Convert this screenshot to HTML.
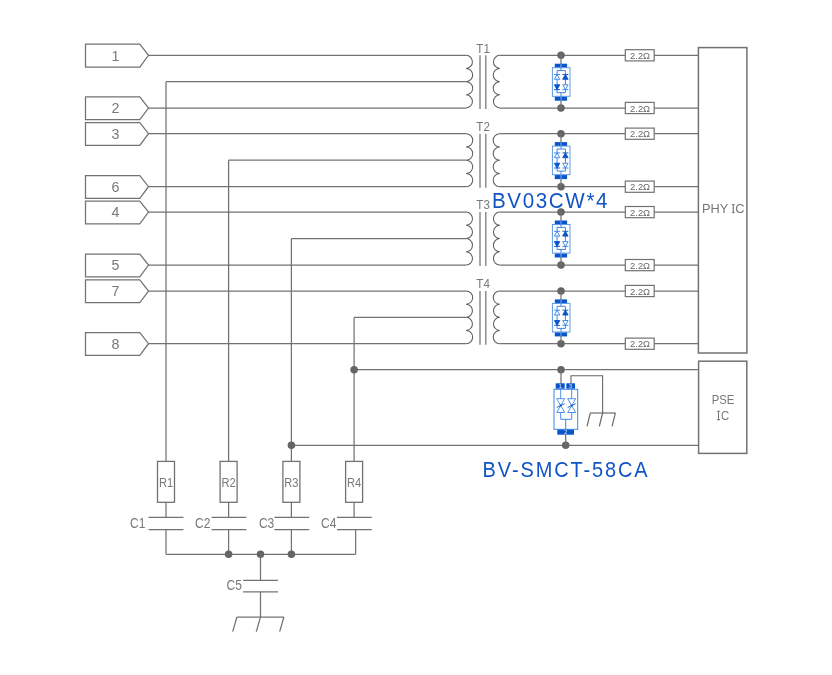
<!DOCTYPE html>
<html><head><meta charset="utf-8"><style>
html,body{margin:0;padding:0;background:#fff;}
svg{display:block;will-change:transform;}
</style></head><body>
<svg width="832" height="675" viewBox="0 0 832 675">
<rect width="832" height="675" fill="#fff"/>
<path d="M139.8,44.2 L85.5,44.2 L85.5,67.0 L139.8,67.0 L148.5,55.3 Z" stroke="#727272" stroke-width="1.25" fill="none" />
<text x="115.6" y="60.6" font-size="14.3" fill="#787878" text-anchor="middle" letter-spacing="0" font-family='"Liberation Sans", sans-serif' font-weight="normal">1</text>
<line x1="148.5" y1="55.3" x2="466.1" y2="55.3" stroke="#727272" stroke-width="1.25"/>
<path d="M139.8,96.9 L85.5,96.9 L85.5,119.7 L139.8,119.7 L148.5,108.0 Z" stroke="#727272" stroke-width="1.25" fill="none" />
<text x="115.6" y="113.3" font-size="14.3" fill="#787878" text-anchor="middle" letter-spacing="0" font-family='"Liberation Sans", sans-serif' font-weight="normal">2</text>
<line x1="148.5" y1="108.0" x2="466.1" y2="108.0" stroke="#727272" stroke-width="1.25"/>
<path d="M139.8,122.6 L85.5,122.6 L85.5,145.4 L139.8,145.4 L148.5,133.7 Z" stroke="#727272" stroke-width="1.25" fill="none" />
<text x="115.6" y="139.0" font-size="14.3" fill="#787878" text-anchor="middle" letter-spacing="0" font-family='"Liberation Sans", sans-serif' font-weight="normal">3</text>
<line x1="148.5" y1="133.7" x2="466.1" y2="133.7" stroke="#727272" stroke-width="1.25"/>
<path d="M139.8,175.6 L85.5,175.6 L85.5,198.4 L139.8,198.4 L148.5,186.7 Z" stroke="#727272" stroke-width="1.25" fill="none" />
<text x="115.6" y="192.0" font-size="14.3" fill="#787878" text-anchor="middle" letter-spacing="0" font-family='"Liberation Sans", sans-serif' font-weight="normal">6</text>
<line x1="148.5" y1="186.7" x2="466.1" y2="186.7" stroke="#727272" stroke-width="1.25"/>
<path d="M139.8,201.0 L85.5,201.0 L85.5,223.8 L139.8,223.8 L148.5,212.1 Z" stroke="#727272" stroke-width="1.25" fill="none" />
<text x="115.6" y="217.4" font-size="14.3" fill="#787878" text-anchor="middle" letter-spacing="0" font-family='"Liberation Sans", sans-serif' font-weight="normal">4</text>
<line x1="148.5" y1="212.1" x2="466.1" y2="212.1" stroke="#727272" stroke-width="1.25"/>
<path d="M139.8,254 L85.5,254 L85.5,276.8 L139.8,276.8 L148.5,265.1 Z" stroke="#727272" stroke-width="1.25" fill="none" />
<text x="115.6" y="270.4" font-size="14.3" fill="#787878" text-anchor="middle" letter-spacing="0" font-family='"Liberation Sans", sans-serif' font-weight="normal">5</text>
<line x1="148.5" y1="265.1" x2="466.1" y2="265.1" stroke="#727272" stroke-width="1.25"/>
<path d="M139.8,279.9 L85.5,279.9 L85.5,302.7 L139.8,302.7 L148.5,291.0 Z" stroke="#727272" stroke-width="1.25" fill="none" />
<text x="115.6" y="296.3" font-size="14.3" fill="#787878" text-anchor="middle" letter-spacing="0" font-family='"Liberation Sans", sans-serif' font-weight="normal">7</text>
<line x1="148.5" y1="291.0" x2="466.1" y2="291.0" stroke="#727272" stroke-width="1.25"/>
<path d="M139.8,332.6 L85.5,332.6 L85.5,355.4 L139.8,355.4 L148.5,343.7 Z" stroke="#727272" stroke-width="1.25" fill="none" />
<text x="115.6" y="349.0" font-size="14.3" fill="#787878" text-anchor="middle" letter-spacing="0" font-family='"Liberation Sans", sans-serif' font-weight="normal">8</text>
<line x1="148.5" y1="343.7" x2="466.1" y2="343.7" stroke="#727272" stroke-width="1.25"/>
<path d="M466.1,55.3 A6.59,6.59 0 0 1 466.1,68.47 A6.59,6.59 0 0 1 466.1,81.65 A6.59,6.59 0 0 1 466.1,94.83 A6.59,6.59 0 0 1 466.1,108.0" stroke="#5e5e5e" stroke-width="1.05" fill="none" />
<path d="M499.8,55.3 A6.59,6.59 0 0 0 499.8,68.47 A6.59,6.59 0 0 0 499.8,81.65 A6.59,6.59 0 0 0 499.8,94.83 A6.59,6.59 0 0 0 499.8,108.0" stroke="#5e5e5e" stroke-width="1.05" fill="none" />
<line x1="480.0" y1="55.3" x2="480.0" y2="109.0" stroke="#8a8a8a" stroke-width="1.5"/>
<line x1="485.8" y1="55.3" x2="485.8" y2="109.0" stroke="#8a8a8a" stroke-width="1.5"/>
<text x="483.1" y="52.5" font-size="13.2" fill="#787878" text-anchor="middle" letter-spacing="0" font-family='"Liberation Sans", sans-serif' font-weight="normal" textLength="13.6" lengthAdjust="spacingAndGlyphs">T1</text>
<line x1="166.0" y1="81.65" x2="466.1" y2="81.65" stroke="#727272" stroke-width="1.25"/>
<line x1="499.8" y1="55.3" x2="698.5" y2="55.3" stroke="#727272" stroke-width="1.25"/>
<circle cx="561.0" cy="55.3" r="3.75" fill="#656565"/>
<rect x="625.3" y="49.7" width="28.9" height="11.2" stroke="#727272" stroke-width="1.2" fill="#fff"/>
<text x="640.1" y="58.9" font-size="9.6" fill="#686868" text-anchor="middle" letter-spacing="0" font-family='"Liberation Sans", sans-serif' font-weight="normal" textLength="20" lengthAdjust="spacingAndGlyphs">2.2Ω</text>
<line x1="499.8" y1="108.0" x2="698.5" y2="108.0" stroke="#727272" stroke-width="1.25"/>
<circle cx="561.0" cy="108.0" r="3.75" fill="#656565"/>
<rect x="625.3" y="102.4" width="28.9" height="11.2" stroke="#727272" stroke-width="1.2" fill="#fff"/>
<text x="640.1" y="111.6" font-size="9.6" fill="#686868" text-anchor="middle" letter-spacing="0" font-family='"Liberation Sans", sans-serif' font-weight="normal" textLength="20" lengthAdjust="spacingAndGlyphs">2.2Ω</text>
<line x1="561.0" y1="55.3" x2="561.0" y2="64.3" stroke="#727272" stroke-width="1.25"/>
<line x1="561.0" y1="99.0" x2="561.0" y2="108.0" stroke="#727272" stroke-width="1.25"/>
<rect x="554.8" y="63.7" width="12.3" height="3.9" fill="#0b55c9"/>
<rect x="554.8" y="96.6" width="12.3" height="4.1" fill="#0b55c9"/>
<line x1="561" y1="63.7" x2="561" y2="67.6" stroke="#9cc0f0" stroke-width="0.8"/>
<line x1="561" y1="96.6" x2="561" y2="100.7" stroke="#9cc0f0" stroke-width="0.8"/>
<rect x="552.4" y="67.7" width="17.6" height="28.6" fill="none" stroke="#5a94e4" stroke-width="0.95"/>
<path d="M561,67.8 V70.6 M557.1,70.6 H565.4 V92.7 H557.1 Z M561,92.7 V96.1" fill="none" stroke="#3d86e6" stroke-width="1"/>
<path d="M554.1,74.5 H560.1 M557.1,74.5 L554.4,79.3 H559.8 Z" fill="#fff" stroke="#3d86e6" stroke-width="0.95"/>
<path d="M562.4,74.5 H568.4 M565.4,74.5 L562.7,79.3 H568.1 Z" fill="#0b55c9" stroke="#0b55c9" stroke-width="0.95"/>
<path d="M554.1,89.6 H560.1 M557.1,89.6 L554.4,84.8 H559.8 Z" fill="#0b55c9" stroke="#0b55c9" stroke-width="0.95"/>
<path d="M562.4,89.6 H568.4 M565.4,89.6 L562.7,84.8 H568.1 Z" fill="#fff" stroke="#3d86e6" stroke-width="0.95"/>
<path d="M466.1,133.7 A6.62,6.62 0 0 1 466.1,146.95 A6.62,6.62 0 0 1 466.1,160.2 A6.62,6.62 0 0 1 466.1,173.45 A6.62,6.62 0 0 1 466.1,186.7" stroke="#5e5e5e" stroke-width="1.05" fill="none" />
<path d="M499.8,133.7 A6.62,6.62 0 0 0 499.8,146.95 A6.62,6.62 0 0 0 499.8,160.2 A6.62,6.62 0 0 0 499.8,173.45 A6.62,6.62 0 0 0 499.8,186.7" stroke="#5e5e5e" stroke-width="1.05" fill="none" />
<line x1="480.0" y1="133.7" x2="480.0" y2="187.7" stroke="#8a8a8a" stroke-width="1.5"/>
<line x1="485.8" y1="133.7" x2="485.8" y2="187.7" stroke="#8a8a8a" stroke-width="1.5"/>
<text x="483.1" y="130.9" font-size="13.2" fill="#787878" text-anchor="middle" letter-spacing="0" font-family='"Liberation Sans", sans-serif' font-weight="normal" textLength="13.6" lengthAdjust="spacingAndGlyphs">T2</text>
<line x1="228.6" y1="160.2" x2="466.1" y2="160.2" stroke="#727272" stroke-width="1.25"/>
<line x1="499.8" y1="133.7" x2="698.5" y2="133.7" stroke="#727272" stroke-width="1.25"/>
<circle cx="561.0" cy="133.7" r="3.75" fill="#656565"/>
<rect x="625.3" y="128.1" width="28.9" height="11.2" stroke="#727272" stroke-width="1.2" fill="#fff"/>
<text x="640.1" y="137.3" font-size="9.6" fill="#686868" text-anchor="middle" letter-spacing="0" font-family='"Liberation Sans", sans-serif' font-weight="normal" textLength="20" lengthAdjust="spacingAndGlyphs">2.2Ω</text>
<line x1="499.8" y1="186.7" x2="698.5" y2="186.7" stroke="#727272" stroke-width="1.25"/>
<circle cx="561.0" cy="186.7" r="3.75" fill="#656565"/>
<rect x="625.3" y="181.1" width="28.9" height="11.2" stroke="#727272" stroke-width="1.2" fill="#fff"/>
<text x="640.1" y="190.3" font-size="9.6" fill="#686868" text-anchor="middle" letter-spacing="0" font-family='"Liberation Sans", sans-serif' font-weight="normal" textLength="20" lengthAdjust="spacingAndGlyphs">2.2Ω</text>
<line x1="561.0" y1="133.7" x2="561.0" y2="142.7" stroke="#727272" stroke-width="1.25"/>
<line x1="561.0" y1="177.7" x2="561.0" y2="186.7" stroke="#727272" stroke-width="1.25"/>
<rect x="554.8" y="142.1" width="12.3" height="3.9" fill="#0b55c9"/>
<rect x="554.8" y="175.0" width="12.3" height="4.1" fill="#0b55c9"/>
<line x1="561" y1="142.1" x2="561" y2="146.0" stroke="#9cc0f0" stroke-width="0.8"/>
<line x1="561" y1="175.0" x2="561" y2="179.1" stroke="#9cc0f0" stroke-width="0.8"/>
<rect x="552.4" y="146.1" width="17.6" height="28.6" fill="none" stroke="#5a94e4" stroke-width="0.95"/>
<path d="M561,146.2 V149.0 M557.1,149.0 H565.4 V171.1 H557.1 Z M561,171.1 V174.5" fill="none" stroke="#3d86e6" stroke-width="1"/>
<path d="M554.1,152.9 H560.1 M557.1,152.9 L554.4,157.7 H559.8 Z" fill="#fff" stroke="#3d86e6" stroke-width="0.95"/>
<path d="M562.4,152.9 H568.4 M565.4,152.9 L562.7,157.7 H568.1 Z" fill="#0b55c9" stroke="#0b55c9" stroke-width="0.95"/>
<path d="M554.1,168.0 H560.1 M557.1,168.0 L554.4,163.2 H559.8 Z" fill="#0b55c9" stroke="#0b55c9" stroke-width="0.95"/>
<path d="M562.4,168.0 H568.4 M565.4,168.0 L562.7,163.2 H568.1 Z" fill="#fff" stroke="#3d86e6" stroke-width="0.95"/>
<path d="M466.1,212.1 A6.63,6.63 0 0 1 466.1,225.35 A6.63,6.63 0 0 1 466.1,238.6 A6.63,6.63 0 0 1 466.1,251.85 A6.63,6.63 0 0 1 466.1,265.1" stroke="#5e5e5e" stroke-width="1.05" fill="none" />
<path d="M499.8,212.1 A6.63,6.63 0 0 0 499.8,225.35 A6.63,6.63 0 0 0 499.8,238.6 A6.63,6.63 0 0 0 499.8,251.85 A6.63,6.63 0 0 0 499.8,265.1" stroke="#5e5e5e" stroke-width="1.05" fill="none" />
<line x1="480.0" y1="212.1" x2="480.0" y2="266.1" stroke="#8a8a8a" stroke-width="1.5"/>
<line x1="485.8" y1="212.1" x2="485.8" y2="266.1" stroke="#8a8a8a" stroke-width="1.5"/>
<text x="483.1" y="209.3" font-size="13.2" fill="#787878" text-anchor="middle" letter-spacing="0" font-family='"Liberation Sans", sans-serif' font-weight="normal" textLength="13.6" lengthAdjust="spacingAndGlyphs">T3</text>
<line x1="291.4" y1="238.6" x2="466.1" y2="238.6" stroke="#727272" stroke-width="1.25"/>
<line x1="499.8" y1="212.1" x2="698.5" y2="212.1" stroke="#727272" stroke-width="1.25"/>
<circle cx="561.0" cy="212.1" r="3.75" fill="#656565"/>
<rect x="625.3" y="206.5" width="28.9" height="11.2" stroke="#727272" stroke-width="1.2" fill="#fff"/>
<text x="640.1" y="215.7" font-size="9.6" fill="#686868" text-anchor="middle" letter-spacing="0" font-family='"Liberation Sans", sans-serif' font-weight="normal" textLength="20" lengthAdjust="spacingAndGlyphs">2.2Ω</text>
<line x1="499.8" y1="265.1" x2="698.5" y2="265.1" stroke="#727272" stroke-width="1.25"/>
<circle cx="561.0" cy="265.1" r="3.75" fill="#656565"/>
<rect x="625.3" y="259.5" width="28.9" height="11.2" stroke="#727272" stroke-width="1.2" fill="#fff"/>
<text x="640.1" y="268.7" font-size="9.6" fill="#686868" text-anchor="middle" letter-spacing="0" font-family='"Liberation Sans", sans-serif' font-weight="normal" textLength="20" lengthAdjust="spacingAndGlyphs">2.2Ω</text>
<line x1="561.0" y1="212.1" x2="561.0" y2="221.1" stroke="#727272" stroke-width="1.25"/>
<line x1="561.0" y1="256.1" x2="561.0" y2="265.1" stroke="#727272" stroke-width="1.25"/>
<rect x="554.8" y="220.5" width="12.3" height="3.9" fill="#0b55c9"/>
<rect x="554.8" y="253.4" width="12.3" height="4.1" fill="#0b55c9"/>
<line x1="561" y1="220.5" x2="561" y2="224.4" stroke="#9cc0f0" stroke-width="0.8"/>
<line x1="561" y1="253.4" x2="561" y2="257.5" stroke="#9cc0f0" stroke-width="0.8"/>
<rect x="552.4" y="224.5" width="17.6" height="28.6" fill="none" stroke="#5a94e4" stroke-width="0.95"/>
<path d="M561,224.6 V227.4 M557.1,227.4 H565.4 V249.5 H557.1 Z M561,249.5 V252.9" fill="none" stroke="#3d86e6" stroke-width="1"/>
<path d="M554.1,231.3 H560.1 M557.1,231.3 L554.4,236.1 H559.8 Z" fill="#fff" stroke="#3d86e6" stroke-width="0.95"/>
<path d="M562.4,231.3 H568.4 M565.4,231.3 L562.7,236.1 H568.1 Z" fill="#0b55c9" stroke="#0b55c9" stroke-width="0.95"/>
<path d="M554.1,246.4 H560.1 M557.1,246.4 L554.4,241.6 H559.8 Z" fill="#0b55c9" stroke="#0b55c9" stroke-width="0.95"/>
<path d="M562.4,246.4 H568.4 M565.4,246.4 L562.7,241.6 H568.1 Z" fill="#fff" stroke="#3d86e6" stroke-width="0.95"/>
<path d="M466.1,291.0 A6.59,6.59 0 0 1 466.1,304.18 A6.59,6.59 0 0 1 466.1,317.35 A6.59,6.59 0 0 1 466.1,330.52 A6.59,6.59 0 0 1 466.1,343.7" stroke="#5e5e5e" stroke-width="1.05" fill="none" />
<path d="M499.8,291.0 A6.59,6.59 0 0 0 499.8,304.18 A6.59,6.59 0 0 0 499.8,317.35 A6.59,6.59 0 0 0 499.8,330.52 A6.59,6.59 0 0 0 499.8,343.7" stroke="#5e5e5e" stroke-width="1.05" fill="none" />
<line x1="480.0" y1="291.0" x2="480.0" y2="344.7" stroke="#8a8a8a" stroke-width="1.5"/>
<line x1="485.8" y1="291.0" x2="485.8" y2="344.7" stroke="#8a8a8a" stroke-width="1.5"/>
<text x="483.1" y="288.2" font-size="13.2" fill="#787878" text-anchor="middle" letter-spacing="0" font-family='"Liberation Sans", sans-serif' font-weight="normal" textLength="13.6" lengthAdjust="spacingAndGlyphs">T4</text>
<line x1="354.1" y1="317.35" x2="466.1" y2="317.35" stroke="#727272" stroke-width="1.25"/>
<line x1="499.8" y1="291.0" x2="698.5" y2="291.0" stroke="#727272" stroke-width="1.25"/>
<circle cx="561.0" cy="291.0" r="3.75" fill="#656565"/>
<rect x="625.3" y="285.4" width="28.9" height="11.2" stroke="#727272" stroke-width="1.2" fill="#fff"/>
<text x="640.1" y="294.6" font-size="9.6" fill="#686868" text-anchor="middle" letter-spacing="0" font-family='"Liberation Sans", sans-serif' font-weight="normal" textLength="20" lengthAdjust="spacingAndGlyphs">2.2Ω</text>
<line x1="499.8" y1="343.7" x2="698.5" y2="343.7" stroke="#727272" stroke-width="1.25"/>
<circle cx="561.0" cy="343.7" r="3.75" fill="#656565"/>
<rect x="625.3" y="338.1" width="28.9" height="11.2" stroke="#727272" stroke-width="1.2" fill="#fff"/>
<text x="640.1" y="347.3" font-size="9.6" fill="#686868" text-anchor="middle" letter-spacing="0" font-family='"Liberation Sans", sans-serif' font-weight="normal" textLength="20" lengthAdjust="spacingAndGlyphs">2.2Ω</text>
<line x1="561.0" y1="291.0" x2="561.0" y2="300.0" stroke="#727272" stroke-width="1.25"/>
<line x1="561.0" y1="334.7" x2="561.0" y2="343.7" stroke="#727272" stroke-width="1.25"/>
<rect x="554.8" y="299.4" width="12.3" height="3.9" fill="#0b55c9"/>
<rect x="554.8" y="332.3" width="12.3" height="4.1" fill="#0b55c9"/>
<line x1="561" y1="299.4" x2="561" y2="303.3" stroke="#9cc0f0" stroke-width="0.8"/>
<line x1="561" y1="332.3" x2="561" y2="336.4" stroke="#9cc0f0" stroke-width="0.8"/>
<rect x="552.4" y="303.4" width="17.6" height="28.6" fill="none" stroke="#5a94e4" stroke-width="0.95"/>
<path d="M561,303.5 V306.3 M557.1,306.3 H565.4 V328.4 H557.1 Z M561,328.4 V331.8" fill="none" stroke="#3d86e6" stroke-width="1"/>
<path d="M554.1,310.2 H560.1 M557.1,310.2 L554.4,315.0 H559.8 Z" fill="#fff" stroke="#3d86e6" stroke-width="0.95"/>
<path d="M562.4,310.2 H568.4 M565.4,310.2 L562.7,315.0 H568.1 Z" fill="#0b55c9" stroke="#0b55c9" stroke-width="0.95"/>
<path d="M554.1,325.3 H560.1 M557.1,325.3 L554.4,320.5 H559.8 Z" fill="#0b55c9" stroke="#0b55c9" stroke-width="0.95"/>
<path d="M562.4,325.3 H568.4 M565.4,325.3 L562.7,320.5 H568.1 Z" fill="#fff" stroke="#3d86e6" stroke-width="0.95"/>
<line x1="166.0" y1="81.8" x2="166.0" y2="461.4" stroke="#727272" stroke-width="1.25"/>
<rect x="157.5" y="461.4" width="17" height="40.9" stroke="#727272" stroke-width="1.3" fill="#fff"/>
<text x="166.0" y="487.0" font-size="13.6" fill="#787878" text-anchor="middle" letter-spacing="0" font-family='"Liberation Sans", sans-serif' font-weight="normal" textLength="14.2" lengthAdjust="spacingAndGlyphs">R1</text>
<line x1="166.0" y1="502.3" x2="166.0" y2="517.4" stroke="#727272" stroke-width="1.25"/>
<line x1="148.6" y1="517.4" x2="183.4" y2="517.4" stroke="#727272" stroke-width="1.25"/>
<line x1="148.6" y1="529.6" x2="183.4" y2="529.6" stroke="#727272" stroke-width="1.25"/>
<line x1="166.0" y1="529.6" x2="166.0" y2="554.3" stroke="#727272" stroke-width="1.25"/>
<text x="145.5" y="527.6" font-size="14.4" fill="#787878" text-anchor="end" letter-spacing="0" font-family='"Liberation Sans", sans-serif' font-weight="normal" textLength="15.4" lengthAdjust="spacingAndGlyphs">C1</text>
<line x1="228.6" y1="160.2" x2="228.6" y2="461.4" stroke="#727272" stroke-width="1.25"/>
<rect x="220.1" y="461.4" width="17" height="40.9" stroke="#727272" stroke-width="1.3" fill="#fff"/>
<text x="228.6" y="487.0" font-size="13.6" fill="#787878" text-anchor="middle" letter-spacing="0" font-family='"Liberation Sans", sans-serif' font-weight="normal" textLength="14.2" lengthAdjust="spacingAndGlyphs">R2</text>
<line x1="228.6" y1="502.3" x2="228.6" y2="517.4" stroke="#727272" stroke-width="1.25"/>
<line x1="211.6" y1="517.4" x2="246.4" y2="517.4" stroke="#727272" stroke-width="1.25"/>
<line x1="211.6" y1="529.6" x2="246.4" y2="529.6" stroke="#727272" stroke-width="1.25"/>
<line x1="228.6" y1="529.6" x2="228.6" y2="554.3" stroke="#727272" stroke-width="1.25"/>
<text x="210.5" y="527.6" font-size="14.4" fill="#787878" text-anchor="end" letter-spacing="0" font-family='"Liberation Sans", sans-serif' font-weight="normal" textLength="15.4" lengthAdjust="spacingAndGlyphs">C2</text>
<line x1="291.4" y1="238.6" x2="291.4" y2="461.4" stroke="#727272" stroke-width="1.25"/>
<rect x="282.9" y="461.4" width="17" height="40.9" stroke="#727272" stroke-width="1.3" fill="#fff"/>
<text x="291.4" y="487.0" font-size="13.6" fill="#787878" text-anchor="middle" letter-spacing="0" font-family='"Liberation Sans", sans-serif' font-weight="normal" textLength="14.2" lengthAdjust="spacingAndGlyphs">R3</text>
<line x1="291.4" y1="502.3" x2="291.4" y2="517.4" stroke="#727272" stroke-width="1.25"/>
<line x1="274.4" y1="517.4" x2="309.2" y2="517.4" stroke="#727272" stroke-width="1.25"/>
<line x1="274.4" y1="529.6" x2="309.2" y2="529.6" stroke="#727272" stroke-width="1.25"/>
<line x1="291.4" y1="529.6" x2="291.4" y2="554.3" stroke="#727272" stroke-width="1.25"/>
<text x="274.3" y="527.6" font-size="14.4" fill="#787878" text-anchor="end" letter-spacing="0" font-family='"Liberation Sans", sans-serif' font-weight="normal" textLength="15.4" lengthAdjust="spacingAndGlyphs">C3</text>
<line x1="354.1" y1="317.5" x2="354.1" y2="461.4" stroke="#727272" stroke-width="1.25"/>
<rect x="345.6" y="461.4" width="17" height="40.9" stroke="#727272" stroke-width="1.3" fill="#fff"/>
<text x="354.1" y="487.0" font-size="13.6" fill="#787878" text-anchor="middle" letter-spacing="0" font-family='"Liberation Sans", sans-serif' font-weight="normal" textLength="14.2" lengthAdjust="spacingAndGlyphs">R4</text>
<line x1="354.1" y1="502.3" x2="354.1" y2="517.4" stroke="#727272" stroke-width="1.25"/>
<line x1="337.0" y1="517.4" x2="371.8" y2="517.4" stroke="#727272" stroke-width="1.25"/>
<line x1="337.0" y1="529.6" x2="371.8" y2="529.6" stroke="#727272" stroke-width="1.25"/>
<line x1="355.6" y1="529.6" x2="355.6" y2="554.3" stroke="#727272" stroke-width="1.25"/>
<text x="336.5" y="527.6" font-size="14.4" fill="#787878" text-anchor="end" letter-spacing="0" font-family='"Liberation Sans", sans-serif' font-weight="normal" textLength="15.4" lengthAdjust="spacingAndGlyphs">C4</text>
<line x1="166.0" y1="554.3" x2="355.6" y2="554.3" stroke="#727272" stroke-width="1.25"/>
<circle cx="228.6" cy="554.3" r="3.75" fill="#656565"/>
<circle cx="260.5" cy="554.3" r="3.75" fill="#656565"/>
<circle cx="291.4" cy="554.3" r="3.75" fill="#656565"/>
<line x1="260.5" y1="554.3" x2="260.5" y2="580.3" stroke="#727272" stroke-width="1.25"/>
<line x1="243.1" y1="580.3" x2="278.0" y2="580.3" stroke="#727272" stroke-width="1.25"/>
<line x1="243.1" y1="591.9" x2="278.0" y2="591.9" stroke="#727272" stroke-width="1.25"/>
<line x1="260.5" y1="591.9" x2="260.5" y2="617.0" stroke="#727272" stroke-width="1.25"/>
<text x="241.9" y="590.4" font-size="14.4" fill="#787878" text-anchor="end" letter-spacing="0" font-family='"Liberation Sans", sans-serif' font-weight="normal" textLength="15.4" lengthAdjust="spacingAndGlyphs">C5</text>
<line x1="236.9" y1="617" x2="283.9" y2="617" stroke="#727272" stroke-width="1.25"/>
<line x1="236.9" y1="617" x2="232.7" y2="631.6" stroke="#727272" stroke-width="1.25"/>
<line x1="260.5" y1="617" x2="256.3" y2="631.6" stroke="#727272" stroke-width="1.25"/>
<line x1="283.9" y1="617" x2="279.7" y2="631.6" stroke="#727272" stroke-width="1.25"/>
<line x1="354.1" y1="369.7" x2="698.6" y2="369.7" stroke="#727272" stroke-width="1.25"/>
<circle cx="354.1" cy="369.7" r="3.75" fill="#656565"/>
<line x1="291.4" y1="445.3" x2="698.6" y2="445.3" stroke="#727272" stroke-width="1.25"/>
<circle cx="291.4" cy="445.3" r="3.75" fill="#656565"/>
<rect x="698.4" y="47.6" width="48.5" height="305.4" stroke="#727272" stroke-width="1.5" fill="none"/>
<text x="723.2" y="213.2" font-size="13.4" fill="#787878" text-anchor="middle" letter-spacing="0" font-family='"Liberation Sans", sans-serif' font-weight="normal" textLength="42.5" lengthAdjust="spacingAndGlyphs">PHY IC</text>
<path d="M731.9,204.5 H734.7 M731.9,212.7 H734.7" stroke="#787878" stroke-width="0.9"/>
<rect x="698.6" y="361.2" width="48.2" height="92.2" stroke="#727272" stroke-width="1.5" fill="none"/>
<text x="723.1" y="404.2" font-size="13.1" fill="#787878" text-anchor="middle" letter-spacing="0" font-family='"Liberation Sans", sans-serif' font-weight="normal" textLength="22.6" lengthAdjust="spacingAndGlyphs">PSE</text>
<text x="725.2" y="420.0" font-size="12.8" fill="#787878" text-anchor="middle" letter-spacing="0" font-family='"Liberation Sans", sans-serif' font-weight="normal" textLength="8.2" lengthAdjust="spacingAndGlyphs">C</text>
<path d="M718.5,411.2 V419.6 M717.1,411.2 H719.9 M717.1,419.6 H719.9" stroke="#787878" stroke-width="1.05"/>
<circle cx="561.0" cy="369.7" r="3.75" fill="#656565"/>
<circle cx="565.7" cy="445.3" r="3.75" fill="#656565"/>
<line x1="561.0" y1="369.7" x2="561.0" y2="383.5" stroke="#727272" stroke-width="1.25"/>
<line x1="565.7" y1="434.7" x2="565.7" y2="445.3" stroke="#727272" stroke-width="1.25"/>
<rect x="555.7" y="383.3" width="9" height="5.4" fill="#0b55c9"/>
<rect x="566.3" y="383.3" width="8.7" height="5.4" fill="#0b55c9"/>
<rect x="557.3" y="429.3" width="16.7" height="5.4" fill="#0b55c9"/>
<text x="560.2" y="388" font-size="5.5" fill="#e8f0ff" text-anchor="middle" font-family="Liberation Sans, sans-serif">1</text>
<text x="570.6" y="388" font-size="5.5" fill="#e8f0ff" text-anchor="middle" font-family="Liberation Sans, sans-serif">3</text>
<text x="565.7" y="434" font-size="5.5" fill="#e8f0ff" text-anchor="middle" font-family="Liberation Sans, sans-serif">2</text>
<rect x="554" y="389.3" width="23.7" height="40" fill="none" stroke="#3d86e6" stroke-width="1"/>
<path d="M571,383.3 V375.7 H602.6 V413" stroke="#666" stroke-width="1.1" fill="none" />
<line x1="590.3" y1="413" x2="615.4" y2="413" stroke="#666" stroke-width="1.15"/>
<line x1="590.3" y1="413" x2="587.0" y2="426.3" stroke="#666" stroke-width="1.15"/>
<line x1="602.6" y1="413" x2="599.3" y2="426.3" stroke="#666" stroke-width="1.15"/>
<line x1="615.4" y1="413" x2="612.1" y2="426.3" stroke="#666" stroke-width="1.15"/>
<path d="M560.7,389.3 V398.7 M556.7,398.7 H564.7 L560.7,405.6 L556.7,412.5 H564.7 L560.7,405.6 Z M560.7,412.5 V419.3" fill="none" stroke="#3d86e6" stroke-width="0.9"/>
<path d="M556.7,407.5 L564.7,403.7" stroke="#0b55c9" stroke-width="0.9"/>
<circle cx="560.7" cy="405.6" r="1" fill="#0b55c9"/>
<path d="M571.7,389.3 V398.7 M567.7,398.7 H575.7 L571.7,405.6 L567.7,412.5 H575.7 L571.7,405.6 Z M571.7,412.5 V419.3" fill="none" stroke="#3d86e6" stroke-width="0.9"/>
<path d="M567.7,407.5 L575.7,403.7" stroke="#0b55c9" stroke-width="0.9"/>
<circle cx="571.7" cy="405.6" r="1" fill="#0b55c9"/>
<path d="M560.7,419.3 H571.7 M565.7,419.3 V429.3" fill="none" stroke="#3d86e6" stroke-width="1"/>
<text transform="translate(492.0,208.3) scale(0.92,1)" x="0" y="0" font-size="22.4" fill="#1154c6" text-anchor="start" letter-spacing="1.75" font-family='"Liberation Sans", sans-serif' font-weight="normal">BV03CW*4</text>
<text transform="translate(482.6,476.6) scale(0.9,1)" x="0" y="0" font-size="22.2" fill="#1154c6" text-anchor="start" letter-spacing="2.1" font-family='"Liberation Sans", sans-serif' font-weight="normal">BV-SMCT-58CA</text>
</svg>
</body></html>
